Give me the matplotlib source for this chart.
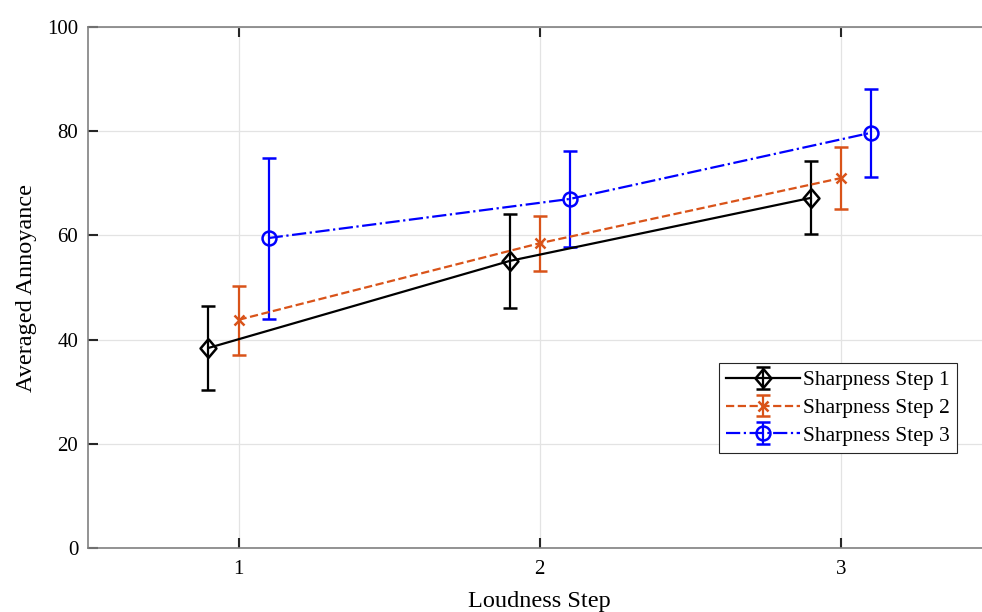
import numpy as np
import matplotlib.pyplot as plt

plt.rcParams['font.family'] = ['Liberation Serif', 'DejaVu Serif']

# data
loudness = np.array([1, 2, 3])
offsets = [-0.1, 0.0, 0.1]
labels = ['Sharpness Step 1', 'Sharpness Step 2', 'Sharpness Step 3']

mean1 = [38.4, 55.1, 67.2]
low1 = [30.3, 46.1, 60.3]
high1 = [46.4, 64.1, 74.3]

mean2 = [43.8, 58.5, 71.0]
low2 = [37.0, 53.2, 65.1]
high2 = [50.3, 63.7, 77.0]

mean3 = [59.5, 67.0, 79.7]
low3 = [44.0, 57.8, 71.2]
high3 = [74.9, 76.2, 88.1]

means = [mean1, mean2, mean3]
lows = [low1, low2, low3]
highs = [high1, high2, high3]

# matlab style diamond, a bit narrower than tall
diamond = [(0, 1), (0.85, 0), (0, -1), (-0.85, 0), (0, 1)]

colors = ['black', '#D95319', 'blue']
markers = [diamond, 'x', 'o']
styles = ['-', '--', '-.']
msizes = [13.5, 7, 10]

fig = plt.figure(figsize=(9.82, 6.12), dpi=100)
# axes runs past the right edge like in the original
ax = fig.add_axes([88 / 982, 64 / 612, 903.5 / 982, 521 / 612])

for i in range(3):
    m = np.array(means[i])
    err = [m - np.array(lows[i]), np.array(highs[i]) - m]
    ax.errorbar(loudness + offsets[i], m, yerr=err, color=colors[i],
                marker=markers[i], ls=styles[i], lw=1.6, ms=msizes[i],
                mfc='none', mew=1.8, capsize=4.8, capthick=1.6, elinewidth=1.6,
                label=labels[i])

ax.set_xlim(0.5, 3.5)
ax.set_ylim(0, 100)
ax.set_xticks([1, 2, 3])
ax.set_yticks(range(0, 101, 20))
ax.grid(True, color='#e3e3e3', lw=0.9)
ax.set_axisbelow(True)
ax.tick_params(direction='in', length=7, width=1.5, labelsize=15,
               color='#262626', top=True, right=True)
ax.tick_params(axis='x', pad=9)
ax.tick_params(axis='y', pad=7)
for s in ax.spines.values():
    s.set_color('#808080')
    s.set_linewidth(1.2)

ax.set_xlabel('Loudness Step', fontsize=17.5, labelpad=8)
ax.set_ylabel('Averaged Annoyance', fontsize=17.5, labelpad=7)

leg = ax.legend(loc='lower right', bbox_to_anchor=(0.962, 0.182), fontsize=15.5,
                fancybox=False, edgecolor='#262626', framealpha=1,
                handlelength=3.4, handletextpad=0.15, borderpad=0.35,
                labelspacing=0.35, borderaxespad=0)
leg.get_frame().set_linewidth(0.8)

fig.savefig('out.png', dpi=100)
